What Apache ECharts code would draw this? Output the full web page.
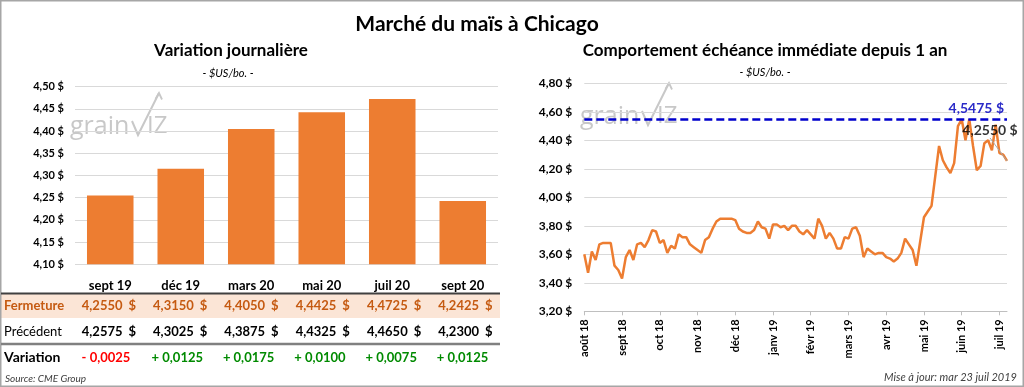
<!DOCTYPE html>
<html><head><meta charset="utf-8">
<script src="https://cdn.jsdelivr.net/npm/echarts@6/dist/echarts.min.js"></script>
<style>html,body{margin:0;padding:0;background:#fff}#c{width:1024px;height:387px}</style>
</head><body><div id="c"></div><script>
// ---------- data ----------
const contracts = ['sept 19','déc 19','mars 20','mai 20','juil 20','sept 20'];
const closeVals = [4.2550, 4.3150, 4.4050, 4.4425, 4.4725, 4.2425];
const prevVals  = [4.2575, 4.3025, 4.3875, 4.4325, 4.4650, 4.2300];
const rowLabels = ['Fermeture', 'Précédent', 'Variation'];
const monthLabels = ['août 18','sept 18','oct 18','nov 18','déc 18','janv 19','févr 19','mars 19','avr 19','mai 19','juin 19','juil 19'];
// nearby futures, ~10 samples per month from août 18 to 23 juil 19
const nearbyVals = [
 3.60,3.47,3.62,3.56,3.67,3.68,3.68,3.68,3.52,3.49,
 3.43,3.58,3.63,3.56,3.67,3.68,3.65,3.70,3.77,3.76,
 3.68,3.70,3.61,3.66,3.64,3.74,3.72,3.72,3.67,3.65,
 3.63,3.61,3.70,3.72,3.78,3.83,3.85,3.85,3.85,3.85,
 3.84,3.78,3.76,3.75,3.75,3.77,3.83,3.79,3.78,3.71,
 3.81,3.81,3.79,3.80,3.77,3.80,3.80,3.76,3.74,3.77,
 3.74,3.71,3.85,3.80,3.71,3.75,3.71,3.64,3.64,3.72,
 3.71,3.78,3.79,3.73,3.58,3.64,3.62,3.60,3.61,3.61,
 3.58,3.57,3.55,3.57,3.61,3.71,3.67,3.63,3.52,3.69,
 3.86,3.90,3.94,4.15,4.36,4.26,4.21,4.17,4.24,4.50,
 4.5475,4.40,4.5475,4.36,4.19,4.22,4.38,4.40,4.33,4.51,
 4.31,4.30,4.2550
];
const yearHigh = 4.5475;
const samplesPerMonth = 10;
const titleMain = 'Marché du maïs à Chicago';
const titleLeft = 'Variation journalière';
const titleRight = 'Comportement échéance immédiate depuis 1 an';
const unitText = '- $US/bo. -';
const sourceText = 'Source: CME Group';
const updateText = 'Mise à jour: mar 23 juil 2019';

// ---------- helpers ----------
const FONT = 'Lato, "Open Sans", sans-serif';
const fmt2 = v => v.toFixed(2).replace('.', ',') + ' $';
const fmt4 = v => v.toFixed(4).replace('.', ',');
const ORANGE = '#ED7D31';

const W = 1024, H = 387;
const g1 = {left: 75, right: W - 498, top: 86.7, bottom: H - 264.3};
const g2 = {left: 584.3, right: W - 1007, top: 83.3, bottom: H - 311.3};

const tickIdx = monthLabels.map((m, i) => i * samplesPerMonth);
const lineData = nearbyVals.map((v, i) => [i, v]);
const lastI = nearbyVals.length - 1;

// ---------- graphics: titles, table, watermark, footer ----------
const gfx = [];
const txt = (x, y, text, style) => gfx.push({type: 'text', x, y, silent: true,
  style: Object.assign({text, fontFamily: FONT, fill: '#000', align: 'center', verticalAlign: 'middle'}, style)});

gfx.push({type: 'rect', shape: {x: 0.75, y: 0.75, width: W - 1.5, height: H - 1.5},
  style: {fill: 'none', stroke: '#A6A6A6', lineWidth: 1.5}, silent: true});

txt(477, 24, titleMain, {fontSize: 21, fontWeight: 'bold'});
txt(231, 51, titleLeft, {fontSize: 17, fontWeight: 'bold'});
txt(228, 73, unitText, {fontSize: 11, fontStyle: 'italic'});
txt(765, 51, titleRight, {fontSize: 17, fontWeight: 'bold'});
txt(765, 72, unitText, {fontSize: 11, fontStyle: 'italic'});

// table
const rowY = [306, 331.7, 357.7];
gfx.push({type: 'rect', shape: {x: 1, y: 294, width: 499, height: 24}, style: {fill: '#FBE5D6'}, silent: true, z: -1});
gfx.push({type: 'line', shape: {x1: 1, y1: 293.5, x2: 500, y2: 293.5}, style: {stroke: '#404040', lineWidth: 2}, silent: true});
gfx.push({type: 'line', shape: {x1: 1, y1: 344, x2: 500, y2: 344}, style: {stroke: '#808080', lineWidth: 2.5}, silent: true});
txt(4, rowY[0], rowLabels[0], {align: 'left', fontSize: 13, fontWeight: 'bold', fill: '#C55A11'});
txt(4, rowY[1], rowLabels[1], {align: 'left', fontSize: 13});
txt(4, rowY[2], rowLabels[2], {align: 'left', fontSize: 14, fontWeight: 'bold'});
const pitch = 71.3, dollarRight0 = 136;
contracts.forEach((c, i) => {
  const dr = dollarRight0 + pitch * i;
  txt(dr - 13.5, rowY[0], fmt4(closeVals[i]), {align: 'right', fontSize: 13, fontWeight: 'bold', fill: '#C55A11'});
  txt(dr, rowY[0], '$', {align: 'right', fontSize: 13, fontWeight: 'bold', fill: '#C55A11'});
  txt(dr - 13.5, rowY[1], fmt4(prevVals[i]), {align: 'right', fontSize: 13, fontWeight: 'bold'});
  txt(dr, rowY[1], '$', {align: 'right', fontSize: 13, fontWeight: 'bold'});
  const d = closeVals[i] - prevVals[i];
  const s = (d < 0 ? '- ' : '+ ') + fmt4(Math.abs(d));
  txt(dr - 30, rowY[2], s, {fontSize: 13, fontWeight: 'bold', fill: d < 0 ? '#FF0000' : '#008A00'});
});

// watermark "grainviz" (baseline at y)
function watermark(x, y) {
  const col = '#C8C8C8';
  gfx.push({type: 'group', x, y, silent: true, z: 0, children: [
    {type: 'text', x: 0, y: -8, style: {text: 'grain', fontFamily: '"Open Sans", sans-serif', fontSize: 25, fill: col, align: 'left', verticalAlign: 'middle'}},
    {type: 'polyline', shape: {points: [[62, -14], [68, 0], [89, -42]]}, style: {stroke: col, lineWidth: 2, fill: 'none'}},
    {type: 'polyline', shape: {points: [[85.5, -36], [89, -42], [92, -35.5]]}, style: {stroke: col, lineWidth: 1.8, fill: 'none'}},
    {type: 'text', x: 77, y: -9, style: {text: 'IZ', fontFamily: '"Open Sans", sans-serif', fontSize: 24, fill: col, align: 'left', verticalAlign: 'middle'}}
  ]});
}
watermark(70, 135);
watermark(580, 125);

txt(5, 379, sourceText, {align: 'left', fontSize: 10, fontStyle: 'italic', fill: '#404040'});
txt(1017, 377, updateText, {align: 'right', fontSize: 11, fontStyle: 'italic', fill: '#404040'});

// ---------- chart ----------
const chart = echarts.init(document.getElementById('c'), null, {renderer: 'canvas', width: W, height: H});
chart.setOption({
  animation: false,
  backgroundColor: '#fff',
  graphic: gfx,
  grid: [
    Object.assign({containLabel: false}, g1),
    Object.assign({containLabel: false}, g2)
  ],
  xAxis: [
    {type: 'category', gridIndex: 0, data: contracts,
     axisLine: {show: false}, axisTick: {show: false},
     axisLabel: {margin: 15, fontSize: 13, fontWeight: 'bold', color: '#000', fontFamily: FONT}},
    {type: 'value', gridIndex: 1, min: 0, max: lastI, interval: samplesPerMonth,
     splitLine: {show: false},
     axisLine: {lineStyle: {color: '#BFBFBF', width: 1}},
     axisTick: {length: 4, lineStyle: {color: '#BFBFBF'}, customValues: tickIdx},
     axisLabel: {customValues: tickIdx, rotate: 90, margin: 8, fontSize: 11, fontWeight: 'bold', color: '#000', fontFamily: FONT,
                 formatter: v => monthLabels[Math.round(v / samplesPerMonth)] || ''}}
  ],
  yAxis: [
    {type: 'value', gridIndex: 0, min: 4.10, max: 4.50, interval: 0.05,
     axisLine: {show: false}, axisTick: {show: false},
     splitLine: {lineStyle: {color: '#D9D9D9'}},
     axisLabel: {formatter: fmt2, fontSize: 11, fontWeight: 'bold', color: '#000', fontFamily: FONT, margin: 11}},
    {type: 'value', gridIndex: 1, min: 3.20, max: 4.80, interval: 0.20,
     axisLine: {show: false}, axisTick: {show: false},
     splitLine: {lineStyle: {color: '#D9D9D9'}},
     axisLabel: {formatter: fmt2, fontSize: 12, fontWeight: 'bold', color: '#000', fontFamily: FONT, margin: 12}}
  ],
  series: [
    {type: 'bar', xAxisIndex: 0, yAxisIndex: 0, data: closeVals, barCategoryGap: '34%',
     itemStyle: {color: ORANGE}, z: 3},
    {type: 'line', xAxisIndex: 1, yAxisIndex: 1, data: lineData, symbol: 'none', z: 3,
     lineStyle: {color: ORANGE, width: 2.5},
     markLine: {silent: true, symbol: 'none', z: 4,
       lineStyle: {color: '#0000CC', type: [8, 4], width: 2.5},
       label: {position: 'insideEndTop', formatter: () => fmt4(yearHigh) + ' $', color: '#2B2BC8', fontSize: 14, fontWeight: 'bold', fontFamily: FONT, distance: 3},
       data: [{yAxis: yearHigh}]}},
    {type: 'scatter', xAxisIndex: 1, yAxisIndex: 1, data: [[lastI, nearbyVals[lastI]]], symbolSize: 0.1, z: 5,
     itemStyle: {color: 'rgba(0,0,0,0)'},
     label: {show: true, position: 'top', distance: 4, formatter: p => fmt4(p.value[1]) + ' $',
             color: '#000', fontWeight: 'bold', fontSize: 14, fontFamily: FONT},
     labelLine: {show: true, lineStyle: {color: '#A6A6A6', width: 1}},
     labelLayout: {dx: -17, dy: -19}}
  ]
});
</script></body></html>
